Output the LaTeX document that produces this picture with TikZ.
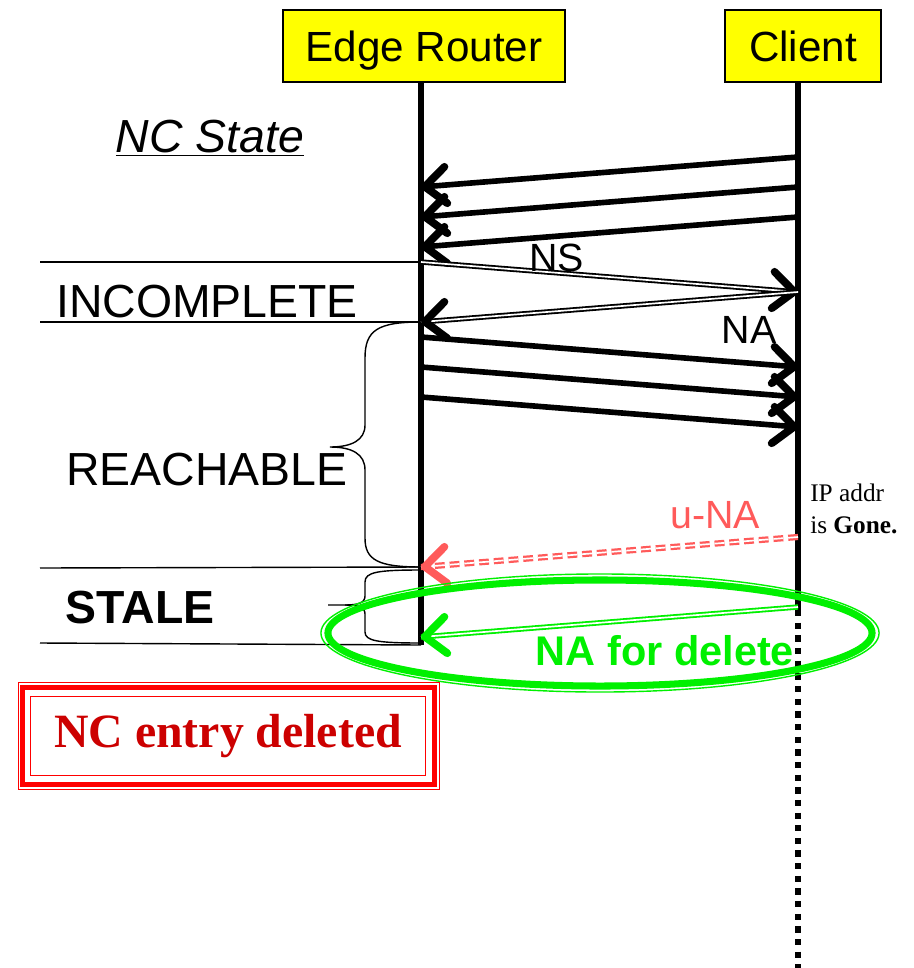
\documentclass[tikz,border=0pt]{standalone}
\usepackage{fontspec}
\setmainfont{Liberation Sans}
\newfontfamily\timesfont{Liberation Serif}
\usetikzlibrary{calc, positioning, arrows.meta, shapes.geometric}
\usepackage{xcolor}
\definecolor{hdryellow}{RGB}{255,255,0}
\definecolor{unared}{RGB}{255,90,90}
\definecolor{delgreen}{RGB}{0,240,0}
\definecolor{delred}{RGB}{204,0,0}
\tikzstyle{header} = [
rectangle,
draw,
line width=1.3pt,
fill=hdryellow,
minimum height=1.8cm,
inner sep=0pt,
text depth=0pt,
font=\fontsize{30}{34}\selectfont
]
\tikzstyle{statelabel} = [
inner sep=0pt,
font=\fontsize{33}{38}\selectfont
]
\tikzstyle{msglabel} = [
inner sep=0pt,
font=\fontsize{28}{32}\selectfont
]
\tikzstyle{lifeline}=[line width=4.8pt]
\tikzstyle{divider}=[line width=1pt]
\tikzstyle{arrow}=[line width=4pt,-{Straight Barb[length=15pt,width=26pt,round,line width=5.5pt 0]}]
\tikzstyle{dblline}=[double, line width=1.3pt, double distance=1.2pt]
\tikzstyle{arrowhead}=[line width=4pt,-{Straight Barb[length=15pt,width=26pt,round,line width=5.5pt 0]}]

\begin{document}
\begin{tikzpicture}[x=0.025cm, y=-0.025cm]
        \useasboundingbox (0,0) rectangle (914,968);

        \node(er)[header, minimum width=7.05cm] at (424,46)
        {Edge Router};

        \node(cl)[header, minimum width=3.9cm, right=3.95cm of er]
        {Client};

        \node(ncstate)[statelabel] at (210,138)
        {\underline{\itshape NC State}};

        \coordinate (ertop) at (421,82);
        \coordinate (erend) at (421,645);
        \coordinate (cltop) at (798,82);
        \coordinate (clsolid) at (798,610);
        \coordinate (clend) at (798,968);

        \draw[lifeline] (ertop) -- (erend);
        \draw[lifeline] (cltop) -- (clsolid);
        \draw[lifeline, dash pattern=on 4.5pt off 4.5pt] (clsolid) -- (clend);

        \foreach \y [count=\i] in {157,187,217} {
          \coordinate (poll\i) at (798,\y);
          \coordinate (pollend\i) at (421,\y+30);
          \draw[arrow] (poll\i) -- (pollend\i);
        }

        \foreach \y [count=\i] in {337,367,397} {
          \coordinate (data\i) at (421,\y);
          \coordinate (dataend\i) at (798,\y+30);
          \draw[arrow] (data\i) -- (dataend\i);
        }

        \coordinate (nsfrom) at (421,262);
        \coordinate (nsto) at (798,292);
        \coordinate (nato) at (421,322);
        \coordinate (unafrom) at (798,537);
        \coordinate (unato) at (421,567);
        \coordinate (delfrom) at (798,607);
        \coordinate (delto) at (421,637);

        \draw[divider] (40,262) -- (nsfrom);
        \draw[divider] (40,322) -- (nato);
        \draw[divider] (40,568) -- (unato);
        \draw[divider] (40,643) -- (erend);

        \node(incomplete)[statelabel] at (207,302) {INCOMPLETE};
        \node(reachable)[statelabel] at (207,470) {REACHABLE};
        \node(stale)[statelabel, font=\fontsize{33}{38}\selectfont\bfseries] at (140,608) {STALE};

        \draw[line width=1pt] (421,322) .. controls (378,322) and (365,330) .. (365,358)
          -- (365,425) .. controls (365,440) and (352,447) .. (330,447)
          .. controls (352,447) and (365,454) .. (365,470)
          -- (365,538) .. controls (365,560) and (378,567) .. (421,567);
        \draw[line width=1pt] (421,570) .. controls (378,570) and (365,572) .. (365,582)
          -- (365,596) .. controls (365,603) and (358,605) .. (345,605) -- (328,605);
        \draw[line width=1pt] (345,605) .. controls (358,605) and (365,607) .. (365,614)
          -- (365,632) .. controls (365,641) and (378,643) .. (421,643);

        \draw[dblline] (nsfrom) -- node[msglabel, pos=0.36, above]{NS} (nsto);
        \draw[arrowhead] ($(nsto)!2pt!(nsfrom)$) -- (nsto);

        \draw[dblline] (nsto) -- node[msglabel, pos=0.13, below=14pt]{NA} (nato);
        \draw[arrowhead] ($(nato)!2pt!(nsto)$) -- (nato);

        \draw[dblline, draw=unared, line width=1.6pt, dash pattern=on 7pt off 3.5pt] (unafrom)
          -- node[msglabel, text=unared, pos=0.22, above=10pt]{u-NA} (unato);
        \draw[arrowhead, unared] ($(unato)!2pt!(unafrom)$) -- (unato);

        \node(gone)[anchor=west, align=left, inner sep=0pt,
          font=\timesfont\fontsize{18}{23}\selectfont] at (810,509)
        {IP addr\\is \textbf{Gone.}};

        \node(ring)[ellipse, draw=delgreen, line width=5pt, minimum width=13.6cm,
          minimum height=2.65cm] at (600,633) {};
        \node(ringout)[ellipse, draw=delgreen, line width=1pt, minimum width=13.95cm,
          minimum height=2.95cm] at (600,633) {};

        \draw[dblline, draw=delgreen] (delfrom)
          -- node[msglabel, text=delgreen, pos=0.353, below=12pt,
            font=\fontsize{29.5}{33}\selectfont\bfseries]{NA for delete} (delto);
        \draw[arrowhead, delgreen] ($(delto)!2pt!(delfrom)$) -- (delto);

        \node(deleted)[draw=red, line width=1.2pt, minimum width=9.875cm,
          minimum height=1.975cm, text=delred,
          font=\timesfont\fontsize{34}{38}\selectfont\bfseries] at (228,736)
        {NC entry deleted};
        \draw[red, line width=4pt] ($(deleted.north west)+(-7,-8)$)
          rectangle ($(deleted.south east)+(8,8)$);
        \draw[red, line width=1.2pt] ($(deleted.north west)+(-11,-13)$)
          rectangle ($(deleted.south east)+(13,13)$);

        \end{tikzpicture}
\end{document}
